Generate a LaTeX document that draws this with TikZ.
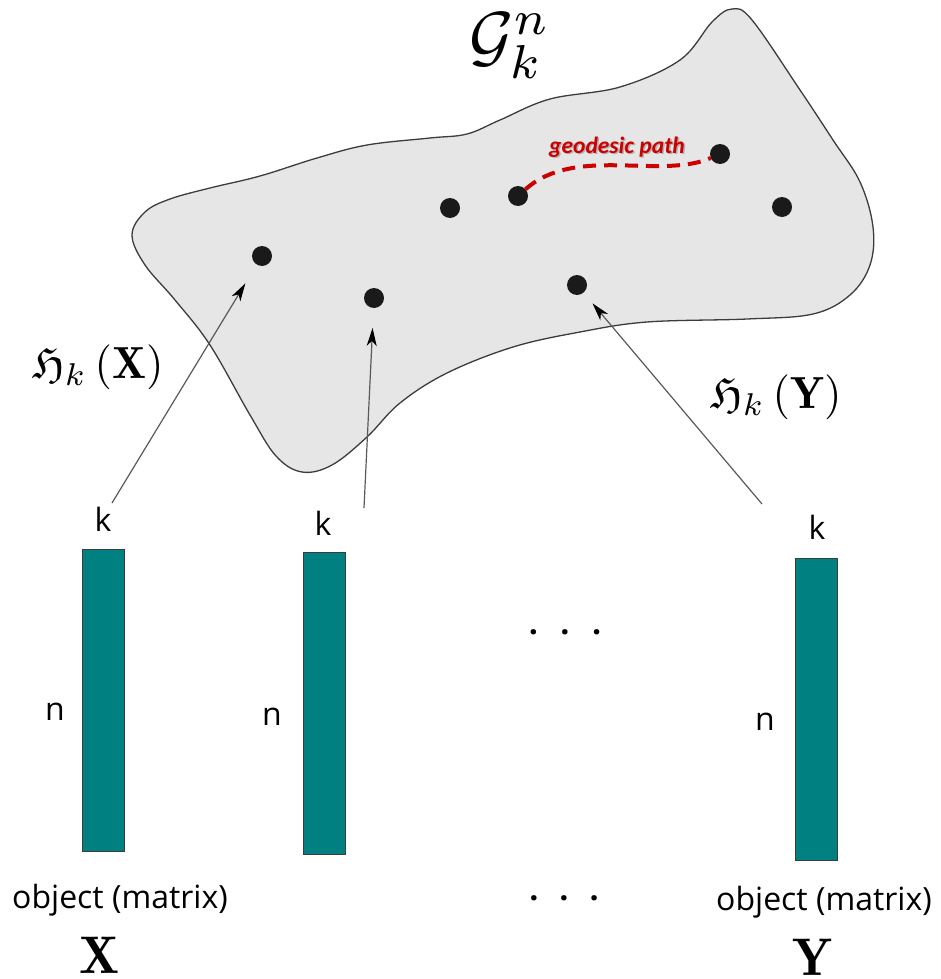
\documentclass[tikz,border=0pt]{standalone}
\usepackage{amsmath,amssymb}
\usepackage{fontspec}
\newfontfamily\osans{Open Sans}
\newfontfamily\carl{Carlito}
\usetikzlibrary{arrows.meta}
\definecolor{blobfill}{HTML}{E6E6E6}
\definecolor{blobline}{HTML}{3C3C3C}
\definecolor{teal}{HTML}{008080}
\definecolor{geored}{HTML}{CC0000}
\definecolor{dotcol}{HTML}{1A1A1A}
\begin{document}
\begin{tikzpicture}[x=1pt,y=-1pt,
  blob/.style={draw=blobline, line width=1.3pt, fill=blobfill},
  dot/.style={circle, fill=dotcol, draw=none, minimum size=20pt, inner sep=0pt, outer sep=0pt},
  bar/.style={rectangle, fill=teal, draw=blobline, line width=1pt, minimum width=42pt, minimum height=302pt, inner sep=0pt},
  lbl/.style={inner sep=0pt, font=\osans\fontsize{32}{37}\selectfont},
  arr/.style={draw=black!65, line width=1.2pt, -{Stealth[length=18pt,width=10pt,inset=5pt,black]}},
  geo/.style={draw=geored, line width=4pt, dash pattern=on 13pt off 8pt},
  mathlbl/.style={inner sep=0pt}
]
\useasboundingbox (0,0) rectangle (941,979);

% manifold blob
\draw[blob] plot[smooth cycle, tension=0.6] coordinates {
  (132,235) (145,212) (170,199) (210,188) (260,176) (317,158) (367,145)
  (430,138) (467,134) (500,120) (550,99) (620,87) (680,60) (712,22)
  (732,9) (752,20) (800,90) (833,140) (860,182) (873,227) (870,265)
  (850,295) (813,314) (747,319) (647,322) (580,332) (513,347) (447,373)
  (400,403) (367,437) (332,465) (302,472) (276,456) (250,415) (210,345)
  (175,300) (145,265)};

% points
\node[dot] (d1) at (262,256) {};
\node[dot] (d2) at (374,298) {};
\node[dot] (d3) at (450,208) {};
\node[dot] (d4) at (518,196) {};
\node[dot] (d5) at (577,285) {};
\node[dot] (d6) at (720,154) {};
\node[dot] (d7) at (782,207) {};

% geodesic path
\draw[geo] (d4) .. controls (575,145) and (660,180) .. (d6);
\node[inner sep=0pt, text=black!45, opacity=0.6, font=\carl\bfseries\itshape\fontsize{23.5}{27}\selectfont] (geoshadow) at (618.5,148.5) {geodesic path};
\node[inner sep=0pt, text=geored, font=\carl\bfseries\itshape\fontsize{23.5}{27}\selectfont] (geolbl) at (617,147) {geodesic path};

% manifold label
\node[mathlbl, scale=6.8] (G) at (510,46) {$\mathcal{G}_k^n$};

% map labels
\node[mathlbl, scale=4.5] (HX) at (98,367) {$\mathfrak{H}_k\left(\mathbf{X}\right)$};
\node[mathlbl, scale=4.5] (HY) at (776,397) {$\mathfrak{H}_k\left(\mathbf{Y}\right)$};

% matrices
\node[bar] (b1) at (103.5,700.5) {};
\node[bar] (b2) at (324,703) {};
\node[bar] (b3) at (816,709) {};

\node[lbl] (k1) at (103,519) {k};
\node[lbl] (k2) at (323,523) {k};
\node[lbl] (k3) at (817,527) {k};
\node[lbl] (n1) at (55,712) {n};
\node[lbl] (n2) at (272,717) {n};
\node[lbl] (n3) at (765,722) {n};

\node[lbl, font=\osans\bfseries\fontsize{32}{37}\selectfont] (dotsA) at (565,632) {.\hspace{22.5pt}.\hspace{22.5pt}.};
\node[lbl, font=\osans\bfseries\fontsize{32}{37}\selectfont] (dotsB) at (564,898) {.\hspace{21pt}.\hspace{21pt}.};

\node[lbl] (o1) at (120,900) {object (matrix)};
\node[lbl] (o2) at (824,902) {object (matrix)};

\node[mathlbl, scale=5.3] (X) at (100,955) {$\mathbf{X}$};
\node[mathlbl, scale=5.3] (Y) at (813,957) {$\mathbf{Y}$};

% arrows
\coordinate (s1) at (112,503);
\coordinate (s2) at (364,508);
\coordinate (s3) at (762,504);
\draw[arr, shorten >=22pt] (s1) -- (d1);
\draw[arr, shorten >=20pt] (s2) -- (d2);
\draw[arr, shorten >=14pt] (s3) -- (d5);
\end{tikzpicture}
\end{document}
